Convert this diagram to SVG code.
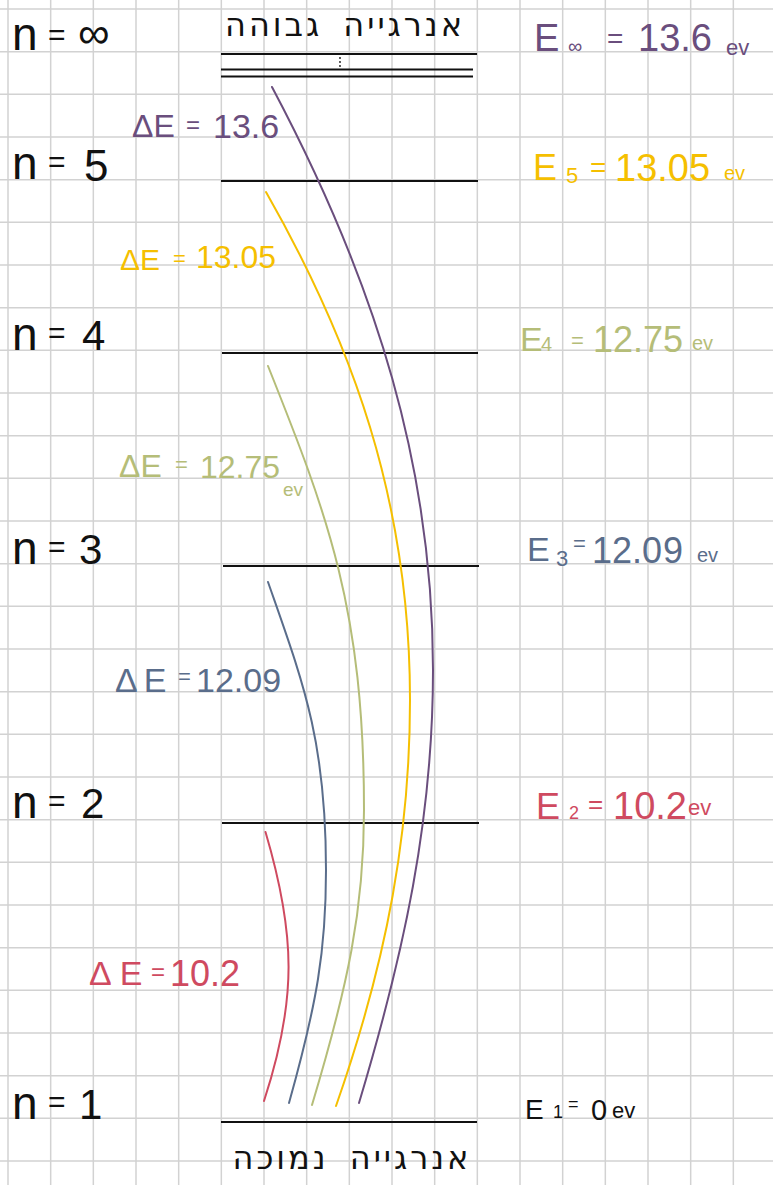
<svg xmlns="http://www.w3.org/2000/svg" width="773" height="1185" viewBox="0 0 773 1185">
<style>
text{font-family:"Liberation Sans","DejaVu Sans",sans-serif;}
.heb{font-family:"DejaVu Sans","Liberation Sans",sans-serif;font-size:32px;fill:#111;letter-spacing:3px;word-spacing:8px;}
.lvl{stroke:#111;stroke-width:2;fill:none;}
.tr{fill:none;stroke-width:2;stroke-linecap:round;}
.k{fill:#111;}
.pu{fill:#6a4e7d;}
.ye{fill:#f5bf00;}
.ol{fill:#b5bd78;}
.bl{fill:#5a6d8b;}
.re{fill:#cf4a60;}
</style>
<rect width="773" height="1185" fill="#fff"/>
<path id="grid" fill="none" stroke="#d2d2d2" stroke-width="1.5" d="M8 0V1185M50.67 0V1185M93.33 0V1185M136 0V1185M178.67 0V1185M221.33 0V1185M264 0V1185M306.67 0V1185M349.33 0V1185M392 0V1185M434.67 0V1185M477.33 0V1185M520 0V1185M562.67 0V1185M605.33 0V1185M648 0V1185M690.67 0V1185M733.33 0V1185M0 9H773M0 51.67H773M0 94.33H773M0 137H773M0 179.67H773M0 222.33H773M0 265H773M0 307.67H773M0 350.33H773M0 393H773M0 435.67H773M0 478.33H773M0 521H773M0 563.67H773M0 606.33H773M0 649H773M0 691.67H773M0 734.33H773M0 777H773M0 819.67H773M0 862.33H773M0 905H773M0 947.67H773M0 990.33H773M0 1033H773M0 1075.67H773M0 1118.33H773M0 1161H773"/>

<g id="title-high">
<text class="heb" x="345" y="36" text-anchor="middle">אנרגייה גבוהה</text>
</g>

<g id="level-inf">
<path class="lvl" d="M221 54H477M221 69.5H473M221 76.5H473"/>
<circle cx="340" cy="58" r="0.9" fill="#111"/><circle cx="340" cy="62" r="0.9" fill="#111"/><circle cx="340" cy="66" r="0.9" fill="#111"/>
<text class="k"><tspan x="12" y="50" font-size="46">n</tspan><tspan x="48" y="45" font-size="30">=</tspan><tspan x="78" y="48" font-size="44">∞</tspan></text>
<text class="pu"><tspan x="534" y="51" font-size="38">E</tspan><tspan x="568" y="53" font-size="20">∞</tspan><tspan x="607" y="48" font-size="28">=</tspan><tspan x="638" y="51" font-size="38">13.6</tspan><tspan x="726" y="55" font-size="22">ev</tspan></text>
</g>

<g id="level-5">
<path class="lvl" d="M221 181H478"/>
<text class="k"><tspan x="12" y="179" font-size="46">n</tspan><tspan x="48" y="172" font-size="30">=</tspan><tspan x="84" y="181" font-size="44">5</tspan></text>
<text class="ye"><tspan x="533" y="180" font-size="36">E</tspan><tspan x="566" y="183" font-size="22">5</tspan><tspan x="590" y="177" font-size="28">=</tspan><tspan x="615" y="181" font-size="38">13.05</tspan><tspan x="724" y="180" font-size="20">ev</tspan></text>
</g>

<g id="level-4">
<path class="lvl" d="M222 353H478"/>
<text class="k"><tspan x="12" y="350" font-size="46">n</tspan><tspan x="48" y="343" font-size="30">=</tspan><tspan x="82" y="350" font-size="42">4</tspan></text>
<text class="ol"><tspan x="520" y="351" font-size="34">E</tspan><tspan x="541" y="351" font-size="20">4</tspan><tspan x="571" y="348" font-size="22">=</tspan><tspan x="593" y="352" font-size="36">12.75</tspan><tspan x="692" y="350" font-size="20">ev</tspan></text>
</g>

<g id="level-3">
<path class="lvl" d="M223 566H479"/>
<text class="k"><tspan x="12" y="564" font-size="46">n</tspan><tspan x="48" y="557" font-size="30">=</tspan><tspan x="79" y="564" font-size="42">3</tspan></text>
<text class="bl"><tspan x="527" y="561" font-size="34">E</tspan><tspan x="556" y="566" font-size="22">3</tspan><tspan x="573" y="551" font-size="22">=</tspan><tspan x="592" y="563" font-size="36">12.0</tspan><tspan x="663" y="563" font-size="36">9</tspan><tspan x="697" y="562" font-size="20">ev</tspan></text>
</g>

<g id="level-2">
<path class="lvl" d="M222 823H479"/>
<text class="k"><tspan x="12" y="818" font-size="46">n</tspan><tspan x="48" y="811" font-size="30">=</tspan><tspan x="81" y="818" font-size="42">2</tspan></text>
<text class="re"><tspan x="536" y="819" font-size="36">E</tspan><tspan x="569" y="819" font-size="18">2</tspan><tspan x="588" y="813" font-size="26">=</tspan><tspan x="613" y="819" font-size="38">10.2</tspan><tspan x="688" y="815" font-size="22">ev</tspan></text>
</g>

<g id="level-1">
<path class="lvl" d="M221 1122H477"/>
<text class="k"><tspan x="12" y="1119" font-size="46">n</tspan><tspan x="48" y="1112" font-size="30">=</tspan><tspan x="79" y="1119" font-size="42">1</tspan></text>
<text class="k"><tspan x="525" y="1119" font-size="28">E</tspan><tspan x="553" y="1118" font-size="18">1</tspan><tspan x="568" y="1110" font-size="18">=</tspan><tspan x="591" y="1120" font-size="29">0</tspan><tspan x="612" y="1118" font-size="22">ev</tspan></text>
</g>

<g id="title-low">
<text class="heb" x="352" y="1169" text-anchor="middle" font-size="34">אנרגייה נמוכה</text>
</g>

<g id="connectors">
<path class="tr" stroke="#6a4e7d" d="M272 87C378 287 433 470 433 670C433 820 404 953 359 1103"/>
<path class="tr" stroke="#f5bf00" d="M266 192C351.5 342 410 500 410 700C410 830 388.5 956 336 1106"/>
<path class="tr" stroke="#b5bd78" d="M268 366C328 516 364 610 364 810C364 910 348 985 312 1105"/>
<path class="tr" stroke="#5a6d8b" d="M268 582C303 682 326 740 326 870C326 950 317 1003 289 1103"/>
<path class="tr" stroke="#cf4a60" d="M265.5 832C296 935 297 1000 264 1101"/>
</g>

<g id="transition-labels">
<text class="pu"><tspan x="132" y="137" font-size="32">ΔE</tspan><tspan x="186" y="133" font-size="24">=</tspan><tspan x="213" y="138" font-size="34">13.6</tspan></text>
<text class="ye"><tspan x="120" y="270" font-size="30">ΔE</tspan><tspan x="173" y="266" font-size="22">=</tspan><tspan x="196" y="268" font-size="32">13.05</tspan></text>
<text class="ol"><tspan x="119" y="477" font-size="32">ΔE</tspan><tspan x="175" y="472" font-size="22">=</tspan><tspan x="200" y="478" font-size="32">12.75</tspan></text>
<text class="ol" x="283" y="496" font-size="19">ev</text>
<text class="bl"><tspan x="115" y="692" font-size="34" letter-spacing="6">ΔE</tspan><tspan x="178" y="684" font-size="22">=</tspan><tspan x="196" y="692" font-size="34">12.09</tspan></text>
<text class="re"><tspan x="89" y="985" font-size="34" letter-spacing="8">ΔE</tspan><tspan x="151" y="980" font-size="24">=</tspan><tspan x="170" y="986" font-size="36">10.2</tspan></text>
</g>
</svg>
